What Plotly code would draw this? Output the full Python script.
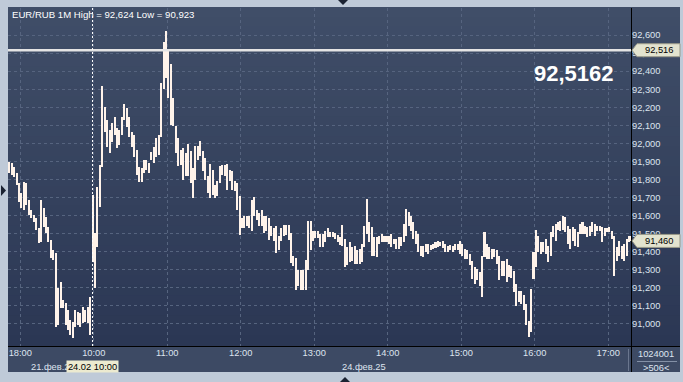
import numpy as np
import plotly.graph_objects as go

# ---------------- data ----------------
symbol = "EUR/RUB 1M"
# 2-minute bars, starting 21.02 17:50 (session-minute index 0)
highs = [
    91.899, 91.890, 91.871, 91.834, 91.779, 91.724, 91.788, 91.779, 91.687, 91.631,
    91.604, 91.585, 91.530, 91.687, 91.641, 91.594, 91.539, 91.465, 91.410, 91.391,
    91.198, 91.235, 91.133, 91.115, 91.078, 91.023, 91.013, 91.078, 91.069, 91.059,
    91.096, 91.078, 91.096, 91.152, 91.714, 91.502, 91.761, 91.880, 92.318, 92.203,
    92.130, 92.074, 92.111, 92.148, 92.083, 92.074, 92.148, 92.218, 92.194, 92.148,
    92.065, 92.046, 91.963, 91.871, 91.862, 91.908, 91.908, 91.890, 91.954, 91.982,
    92.028, 92.046, 92.332, 92.563, 92.624, 92.520, 92.440, 92.251, 92.094, 92.030,
    91.965, 91.974, 91.947, 91.998, 91.956, 91.864, 91.984, 91.984, 92.011, 91.956,
    91.919, 91.818, 91.886, 91.855, 91.771, 91.790, 91.873, 91.882, 91.882, 91.886,
    91.855, 91.845, 91.790, 91.781, 91.707, 91.587, 91.596, 91.596, 91.596, 91.688,
    91.701, 91.633, 91.615, 91.633, 91.596, 91.596, 91.587, 91.541, 91.532, 91.541,
    91.486, 91.532, 91.550, 91.550, 91.550, 91.504, 91.375, 91.366, 91.301, 91.301,
    91.301, 91.356, 91.569, 91.569, 91.513, 91.513, 91.513, 91.499, 91.499, 91.517,
    91.530, 91.508, 91.508, 91.504, 91.494, 91.480, 91.549, 91.471, 91.425, 91.453,
    91.425, 91.434, 91.407, 91.416, 91.444, 91.545, 91.693, 91.564, 91.536, 91.480,
    91.480, 91.490, 91.499, 91.490, 91.490, 91.490, 91.499, 91.471, 91.471, 91.480,
    91.480, 91.554, 91.637, 91.619, 91.600, 91.564, 91.517, 91.499, 91.434, 91.434,
    91.444, 91.444, 91.438, 91.444, 91.456, 91.462, 91.456, 91.462, 91.444, 91.430,
    91.438, 91.434, 91.444, 91.444, 91.462, 91.444, 91.416, 91.407, 91.388, 91.351,
    91.314, 91.305, 91.287, 91.379, 91.508, 91.444, 91.425, 91.416, 91.416, 91.407,
    91.379, 91.351, 91.351, 91.361, 91.324, 91.320, 91.296, 91.222, 91.185, 91.185,
    91.158, 91.112, 91.019, 91.195, 91.397, 91.521, 91.490, 91.453, 91.456, 91.471,
    91.434, 91.508, 91.545, 91.554, 91.567, 91.573, 91.600, 91.591, 91.545, 91.527,
    91.536, 91.527, 91.508, 91.554, 91.564, 91.545, 91.536, 91.545, 91.564, 91.554,
    91.545, 91.545, 91.536, 91.530, 91.530, 91.536, 91.517, 91.490, 91.425, 91.462,
    91.434, 91.444, 91.471, 91.490, 91.490,
]
lows = [
    91.834, 91.825, 91.816, 91.770, 91.677, 91.641, 91.631, 91.659, 91.604, 91.585,
    91.567, 91.521, 91.447, 91.456, 91.539, 91.502, 91.456, 91.364, 91.354, 90.986,
    90.995, 91.087, 91.087, 90.995, 90.967, 90.940, 90.923, 90.986, 90.995, 90.986,
    91.004, 91.013, 91.004, 90.940, 91.345, 91.198, 91.428, 91.650, 91.871, 92.065,
    91.982, 91.945, 92.010, 92.046, 91.973, 91.991, 92.046, 92.130, 92.093, 92.037,
    91.982, 91.927, 91.825, 91.788, 91.788, 91.834, 91.853, 91.834, 91.908, 91.890,
    91.927, 91.936, 92.037, 92.300, 92.360, 92.251, 92.104, 92.094, 91.947, 91.873,
    91.882, 91.799, 91.818, 91.818, 91.781, 91.698, 91.799, 91.910, 91.928, 91.845,
    91.799, 91.725, 91.698, 91.716, 91.698, 91.707, 91.781, 91.827, 91.818, 91.744,
    91.790, 91.744, 91.735, 91.633, 91.495, 91.532, 91.532, 91.541, 91.532, 91.513,
    91.596, 91.578, 91.541, 91.541, 91.504, 91.513, 91.467, 91.486, 91.458, 91.393,
    91.412, 91.458, 91.486, 91.495, 91.467, 91.338, 91.319, 91.190, 91.209, 91.190,
    91.190, 91.190, 91.301, 91.412, 91.458, 91.476, 91.476, 91.425, 91.425, 91.453,
    91.480, 91.480, 91.480, 91.471, 91.453, 91.438, 91.434, 91.314, 91.324, 91.342,
    91.351, 91.333, 91.333, 91.333, 91.342, 91.425, 91.499, 91.453, 91.379, 91.379,
    91.370, 91.444, 91.453, 91.456, 91.453, 91.444, 91.425, 91.444, 91.416, 91.416,
    91.434, 91.453, 91.490, 91.545, 91.517, 91.471, 91.444, 91.397, 91.379, 91.370,
    91.397, 91.388, 91.412, 91.416, 91.420, 91.425, 91.434, 91.420, 91.397, 91.397,
    91.407, 91.397, 91.412, 91.407, 91.388, 91.379, 91.361, 91.361, 91.324, 91.250,
    91.222, 91.241, 91.213, 91.148, 91.370, 91.361, 91.361, 91.361, 91.370, 91.333,
    91.241, 91.268, 91.268, 91.231, 91.259, 91.254, 91.176, 91.102, 91.121, 91.112,
    91.075, 90.992, 90.927, 90.955, 91.250, 91.314, 91.397, 91.388, 91.397, 91.388,
    91.342, 91.379, 91.480, 91.462, 91.523, 91.517, 91.523, 91.508, 91.444, 91.416,
    91.462, 91.430, 91.425, 91.499, 91.499, 91.499, 91.480, 91.490, 91.512, 91.490,
    91.517, 91.517, 91.453, 91.490, 91.508, 91.508, 91.471, 91.268, 91.351, 91.379,
    91.361, 91.351, 91.379, 91.453, 91.460,
]
bar_minutes = 2  # each bar spans 2 session minutes
tick_minutes = [10, 70, 130, 190, 250, 310, 370, 430, 490]
tick_times = ["18:00", "10:00", "11:00", "12:00", "13:00", "14:00", "15:00", "16:00", "17:00"]
price_ticks = [91.0, 91.1, 91.2, 91.3, 91.4, 91.5, 91.6, 91.7, 91.8, 91.9,
               92.0, 92.1, 92.2, 92.3, 92.4, 92.5, 92.6]
level_price = 92.5162
last_price = 91.460
cursor_minute = 69
cursor_label = "24.02 10:00"
day_labels = ["21.фев.25", "24.фев.25"]
bars_total = "1024001"
bars_visible = ">506<"

# ---------------- helpers ----------------
W, H = 683, 382
L, R, T, B = 8, 631, 8, 346


def fx(px):
    return (px - L) / (R - L)


def fy(py):
    return (B - py) / (B - T)


def ru(v, d=3):
    return f"{v:.{d}f}".replace(".", ",")


n = len(highs)
hi = np.array(highs)
lo = np.array(lows)
xc = np.arange(n) * bar_minutes + bar_minutes / 2

FONT = "Liberation Sans, Arial, sans-serif"
TXT = "#dde4ef"

fig = go.Figure()
fig.add_trace(go.Bar(
    x=xc, y=hi - lo, base=lo, width=1.65,
    marker=dict(color="#fff3ea", line=dict(width=0)),
    hoverinfo="skip",
))

shapes = []
# gradient background (plot + right scale)
top_c = np.array([64, 78, 104])
bot_c = np.array([43, 55, 84])
nb = 34
for i in range(nb):
    y0 = T + (B - T) * i / nb
    y1 = T + (B - T) * (i + 1) / nb
    c = top_c + (bot_c - top_c) * (i + 0.5) / nb
    col = "rgb(%d,%d,%d)" % tuple(np.round(c).astype(int))
    shapes.append(dict(type="rect", xref="paper", yref="paper",
                       x0=fx(L), x1=fx(680), y0=fy(y1), y1=fy(y0) + 0.003,
                       fillcolor=col, line=dict(width=0), layer="below"))
# bottom time-scale panel
shapes.append(dict(type="rect", xref="paper", yref="paper",
                   x0=fx(L), x1=fx(680), y0=fy(372), y1=fy(B),
                   fillcolor="#3d4a64", line=dict(width=0), layer="below"))
# separators
shapes.append(dict(type="line", xref="paper", yref="paper",
                   x0=fx(631.5), x1=fx(631.5), y0=fy(372), y1=fy(T),
                   line=dict(color="#000000", width=1), layer="above"))
shapes.append(dict(type="line", xref="paper", yref="paper",
                   x0=fx(L), x1=fx(680), y0=fy(346.5), y1=fy(346.5),
                   line=dict(color="#000000", width=1), layer="above"))
shapes.append(dict(type="line", xref="paper", yref="paper",
                   x0=fx(628.5), x1=fx(628.5), y0=fy(371), y1=fy(349),
                   line=dict(color="#6a768e", width=1), layer="above"))
shapes.append(dict(type="line", xref="paper", yref="paper",
                   x0=fx(637), x1=fx(677), y0=fy(361.5), y1=fy(361.5),
                   line=dict(color="#8390a6", width=1), layer="above"))
# level line
shapes.append(dict(type="line", xref="paper", yref="y", x0=0, x1=1,
                   y0=level_price, y1=level_price,
                   line=dict(color="#e4e4e4", width=2.5), layer="above"))
# cursor
shapes.append(dict(type="line", xref="x", yref="paper", x0=cursor_minute, x1=cursor_minute,
                   y0=0, y1=1, line=dict(color="#ffffff", width=1, dash="2px,2px"),
                   layer="above"))


def tag_path(yc):
    pts = [(632, yc), (637, yc - 6.5), (680, yc - 6.5), (680, yc + 6.5), (637, yc + 6.5)]
    return "M " + " L ".join(f"{fx(a):.5f},{fy(b):.5f}" for a, b in pts) + " Z"


def price_to_py(v):
    r0, r1 = 90.878, 92.750
    return B - (v - r0) / (r1 - r0) * (B - T)


for v in (level_price, last_price):
    shapes.append(dict(type="path", xref="paper", yref="paper", path=tag_path(price_to_py(v)),
                       fillcolor="#e3e3cf", line=dict(color="#9a9a8a", width=1), layer="above"))

# small frame arrows
for pts in ([(1, 185), (6, 190.5), (1, 196)],
            [(338, 0), (348, 0), (343, 5)],
            [(340, 382), (350, 382), (345, 377)]):
    shapes.append(dict(type="path", xref="paper", yref="paper",
                       path="M " + " L ".join(f"{fx(a):.5f},{fy(b):.5f}" for a, b in pts) + " Z",
                       fillcolor="#1b2232", line=dict(width=0), layer="above"))

ann = []
ann.append(dict(xref="paper", yref="paper", x=fx(10), y=fy(15), xanchor="left", yanchor="middle",
                text=f"{symbol} High = {ru(hi.max())} Low = {ru(lo.min())}", showarrow=False,
                font=dict(family=FONT, size=9.6, color="#ffffff")))
ann.append(dict(xref="paper", yref="paper", x=fx(616), y=fy(73), xanchor="right", yanchor="middle",
                text=f"<b>{ru(level_price, 4)}</b>", showarrow=False,
                font=dict(family=FONT, size=22, color="#ffffff")))
for v in (level_price, last_price):
    ann.append(dict(xref="paper", yref="paper", x=fx(659), y=fy(price_to_py(v)), xanchor="center",
                    yanchor="middle", text=ru(v, 3), showarrow=False,
                    font=dict(family=FONT, size=9.3, color="#000000")))
ann.append(dict(xref="paper", yref="paper", x=fx(29), y=fy(367), xanchor="left", yanchor="middle",
                text=day_labels[0], showarrow=False, font=dict(family=FONT, size=9.3, color=TXT)))
ann.append(dict(xref="paper", yref="paper", x=fx(340), y=fy(367), xanchor="left", yanchor="middle",
                text=day_labels[1], showarrow=False, font=dict(family=FONT, size=9.3, color=TXT)))
ann.append(dict(xref="paper", yref="paper", x=fx(92.5), y=fy(366.5), xanchor="center", yanchor="middle",
                text=cursor_label, showarrow=False, bgcolor="#ecead0", width=51, height=11,
                borderpad=0, font=dict(family=FONT, size=9.3, color="#000000")))
ann.append(dict(xref="paper", yref="paper", x=fx(656), y=fy(354), xanchor="center", yanchor="middle",
                text=bars_total, showarrow=False, font=dict(family=FONT, size=9.3, color=TXT)))
ann.append(dict(xref="paper", yref="paper", x=fx(656), y=fy(368), xanchor="center", yanchor="middle",
                text=bars_visible, showarrow=False, font=dict(family=FONT, size=9.3, color=TXT)))

fig.update_layout(
    width=W, height=H, autosize=False,
    margin=dict(l=L, r=W - R, t=T, b=H - B, pad=0),
    paper_bgcolor="#bfcad8", plot_bgcolor="rgba(0,0,0,0)",
    showlegend=False, bargap=0,
    font=dict(family=FONT, size=9.3, color=TXT),
    shapes=shapes, annotations=ann,
    xaxis=dict(range=[0, 508.6], tickmode="array", tickvals=tick_minutes, ticktext=tick_times,
               showgrid=True, gridcolor="#56647f", griddash="3px,3px", gridwidth=1,
               zeroline=False, showline=False, ticks="", fixedrange=True,
               tickfont=dict(family=FONT, size=9.3, color=TXT)),
    yaxis=dict(side="right", range=[90.878, 92.750], tickmode="array", tickvals=price_ticks,
               ticktext=[ru(v) for v in price_ticks],
               showgrid=True, gridcolor="#56647f", griddash="3px,3px", gridwidth=1,
               zeroline=False, showline=False, ticks="", fixedrange=True,
               tickfont=dict(family=FONT, size=9.3, color=TXT)),
)

fig.write_html("out.html", config={"displayModeBar": False})
